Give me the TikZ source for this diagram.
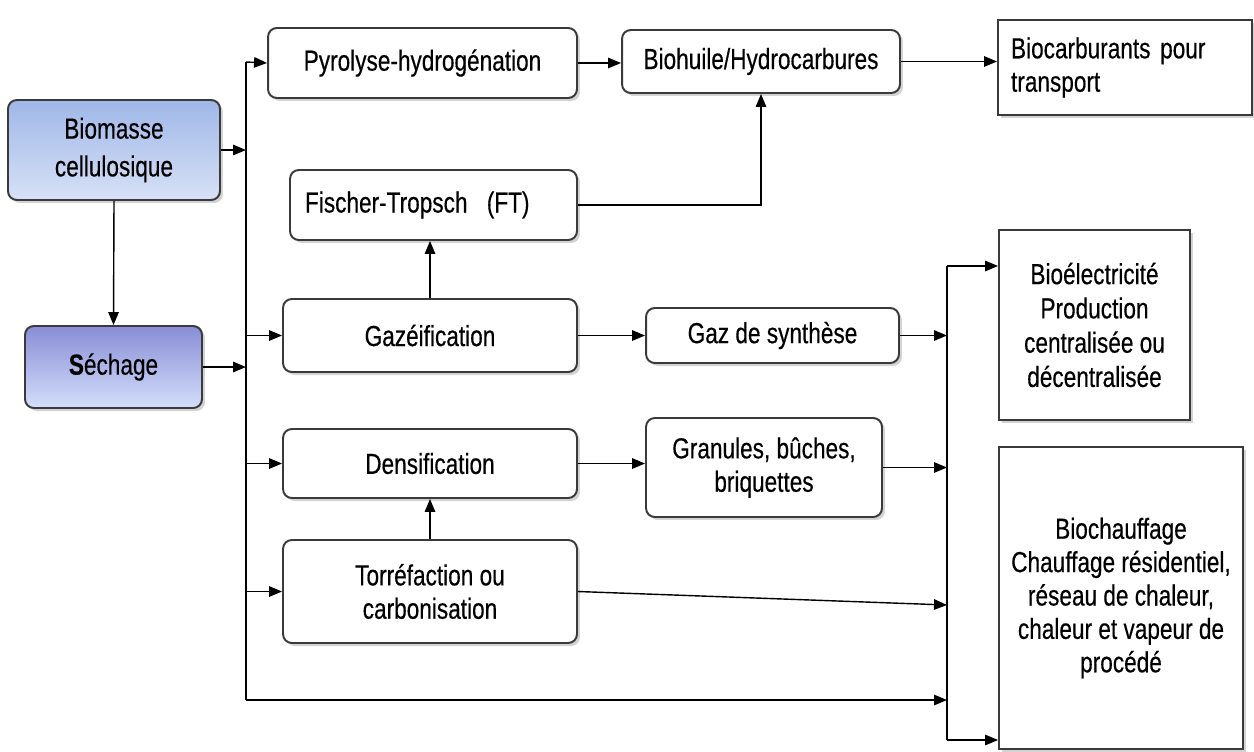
\documentclass[tikz,border=0pt]{standalone}
\usepackage{fontspec}
\setmainfont[FakeStretch=0.78, FakeBold=0.4]{Liberation Sans}
\usepackage{xcolor}
\usepackage{tikz}
\usetikzlibrary{arrows.meta,positioning,calc,shadows}

\definecolor{boxline}{HTML}{3A3A3A}
\definecolor{biotop}{HTML}{9FB7E8}
\definecolor{biobot}{HTML}{D7E1F6}
\definecolor{sectop}{HTML}{888DD6}
\definecolor{secbot}{HTML}{D3DFFA}

\begin{document}
\begin{tikzpicture}[
  x=0.02cm, y=-0.02cm,
  proc/.style={rectangle, draw=boxline, line width=1.1pt, rounded corners=5pt,
    fill=white, drop shadow={opacity=0.35, shadow xshift=0.06cm, shadow yshift=-0.06cm},
    font=\fontsize{16.5}{19}\selectfont, align=center, inner sep=2pt},
  usage/.style={proc, rounded corners=0pt},
  start/.style={proc, top color=biotop, bottom color=biobot},
  ->, >={Triangle[length=2.6mm, width=2.1mm]}, line width=0.8pt
]
  \useasboundingbox (0,0) rectangle (1254,751);

  % sources
  \node[start, font=\fontsize{16.5}{21.5}\selectfont] (bio) at (114,150)
    [minimum width=4.24cm, minimum height=2cm] {Biomasse\\cellulosique};
  \node[start, top color=sectop, bottom color=secbot] (sech) at (113.5,367)
    [minimum width=3.54cm, minimum height=1.64cm] {\textbf{S}échage};

  % conversion routes
  \node[proc] (pyro) at (422.5,63) [minimum width=6.18cm, minimum height=1.4cm]
    {Pyrolyse-hydrogénation};
  \node[proc] (huile) at (761,61.5) [minimum width=5.56cm, minimum height=1.26cm]
    {Biohuile/Hydrocarbures};
  \node[proc, align=left, text width=5.14cm] (ft) at (433.5,205)
    [minimum width=5.74cm, minimum height=1.4cm] {Fischer-Tropsch\ \ (FT)};
  \node[proc] (gaz) at (430,335.5) [minimum width=5.88cm, minimum height=1.46cm]
    {Gazéification};
  \node[proc] (syn) at (772.5,335.5) [minimum width=5.06cm, minimum height=1.1cm]
    {Gaz de synthèse};
  \node[proc] (dens) at (430,463.5) [minimum width=5.88cm, minimum height=1.38cm]
    {Densification};
  \node[proc] (gran) at (764,467.5) [minimum width=4.72cm, minimum height=1.98cm]
    {Granules, bûches,\\briquettes};
  \node[proc] (torr) at (430,591.5) [minimum width=5.88cm, minimum height=2.06cm]
    {Torréfaction ou\\carbonisation};

  % end uses
  \node[usage, align=left, text width=4.56cm] (carb) at (1125,67.5)
    [minimum width=5.08cm, minimum height=1.9cm] {Biocarburants pour\\transport\\[0.85cm]};
  \node[usage, font=\fontsize{16.5}{19.5}\selectfont] (elec) at (1094.5,325)
    [minimum width=3.82cm, minimum height=3.8cm]
    {Bioélectricité\\Production\\centralisée ou\\décentralisée};
  \node[usage] (chauf) at (1121,598) [minimum width=4.88cm, minimum height=6.04cm]
    {Biochauffage\\Chauffage résidentiel,\\réseau de chaleur,\\chaleur et vapeur de\\procédé};

  % distribution lines
  \coordinate (b1top) at (246,62);
  \coordinate (b1bot) at (246,700);
  \coordinate (b2top) at (947,266);
  \coordinate (b2bot) at (947,740);
  \coordinate (torrend) at (947,605);
  \draw[-] (b1top) -- (b1bot);
  \draw[-] (b2top) -- (b2bot);

  \draw (bio.east) -- (bio.east -| b1top);
  \draw (sech.east) -- (sech.east -| b1top);
  \draw (bio.south) -- (sech.north);

  \draw (b1top) -- (pyro.west);
  \draw (gaz.west -| b1top) -- (gaz.west);
  \draw (dens.west -| b1top) -- (dens.west);
  \draw (torr.west -| b1top) -- (torr.west);
  \draw (b1bot) -- (b1bot -| b2top);

  \draw (pyro.east) -- (pyro.east -| huile.west);
  \draw (huile.east) -- (huile.east -| carb.west);
  \draw (ft.east) -| (huile.south);
  \draw (gaz.north) -- (gaz.north |- ft.south);
  \draw (gaz.east) -- (gaz.east -| syn.west);
  \draw (dens.east) -- (dens.east -| gran.west);
  \draw (torr.north) -- (dens.south);

  \draw (syn.east) -- (syn.east -| b2top);
  \draw (gran.east) -- (gran.east -| b2top);
  \draw (torr.east) -- (torrend);
  \draw (b2top) -- (b2top -| elec.west);
  \draw (b2bot) -- (b2bot -| chauf.west);
\end{tikzpicture}
\end{document}
